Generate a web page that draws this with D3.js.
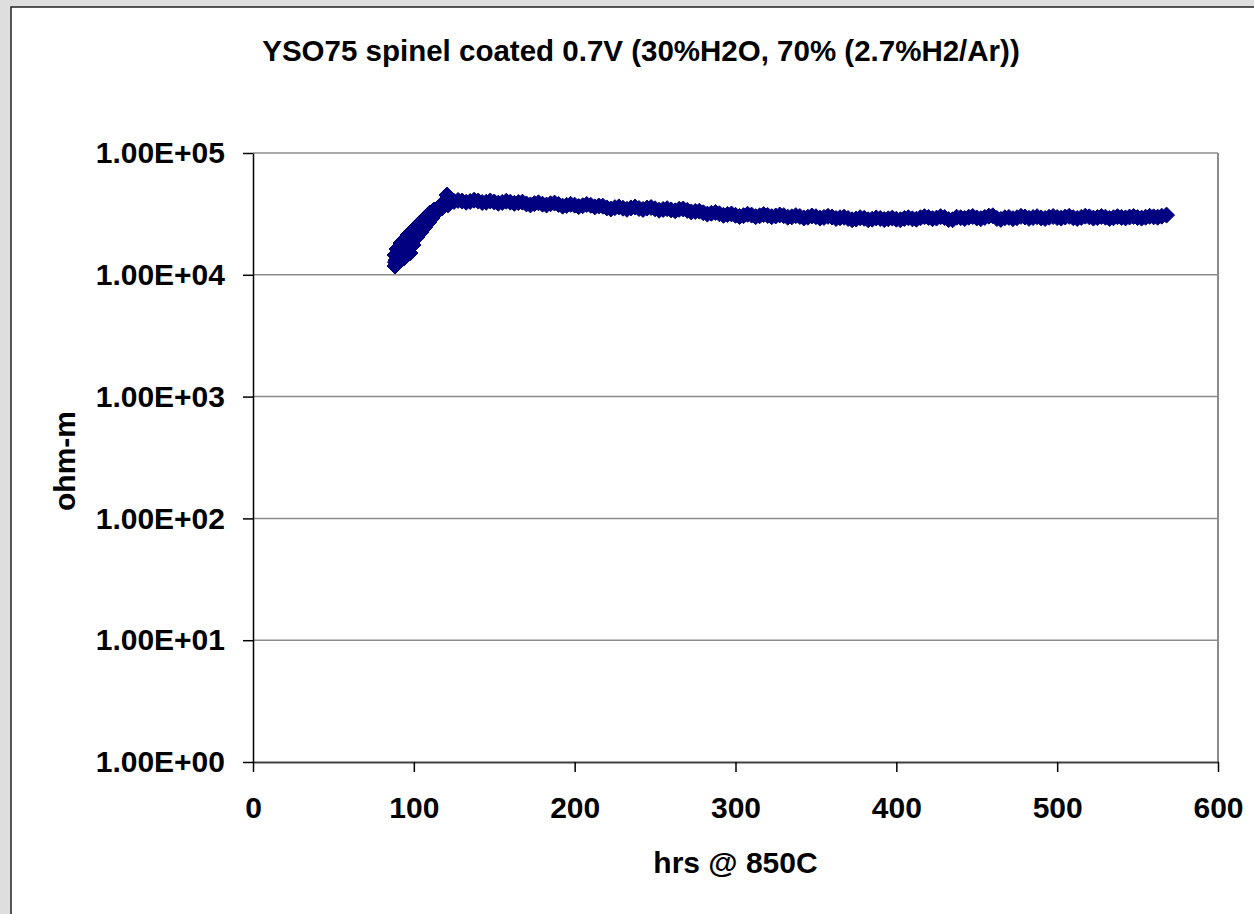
<!DOCTYPE html>
<html>
<head>
<meta charset="utf-8">
<script src="https://cdn.jsdelivr.net/npm/d3@7"></script>
<style>
body { margin: 0; background: #dedede; overflow: hidden; }
text { font-family: "Liberation Sans", Arial, sans-serif; font-weight: bold; fill: #000; }
</style>
</head>
<body>
<script>
var w = 1254;
var h = 914;

// the chart texts
var title = "YSO75 spinel coated 0.7V (30%H2O, 70% (2.7%H2/Ar))";
var xTitle = "hrs @ 850C";
var yTitle = "ohm-m";

// axis ticks
var xTicks = [0, 100, 200, 300, 400, 500, 600];
var yTicks = [1, 10, 100, 1000, 10000, 100000];
var yTickLabels = ["1.00E+00", "1.00E+01", "1.00E+02", "1.00E+03", "1.00E+04", "1.00E+05"];

// start-up ramp (scattered readings)
var rampHours = [88.3, 88.3, 88.6, 89.0, 89.5, 90.8, 91.5, 92.0, 93.9, 94.5, 95.0, 96.4, 97.6, 98.5,
                 99.5, 100.1, 101.0, 102.0, 103.8, 104.5, 105.5, 106.9, 106.9, 108.0, 109.4, 110.0,
                 111.3, 112.5, 113.0, 114.4, 115.0, 117.5, 118.1, 120.6, 121.2];
var rampOhms = [14540, 11810, 12700, 13200, 16280, 12740, 15500, 18240, 13740, 19680, 16500, 21230, 15100, 19000,
                17570, 23770, 21800, 20430, 26630, 22460, 27500, 29270, 24690, 28000, 27140, 32170,
                29270, 34040, 31500, 32780, 35350, 35350, 38860, 45200, 37420];

// long plateau after the ramp
var plateauHours = [125, 130, 135, 140, 145, 150, 155, 160, 165, 170, 175, 180, 185, 190, 195,
                    200, 205, 210, 215, 220, 225, 230, 235, 240, 245, 250, 255, 260, 265, 270,
                    275, 280, 285, 290, 295, 300, 305, 310, 315, 320, 325, 330, 335, 340, 345,
                    350, 355, 360, 365, 370, 375, 380, 385, 390, 395, 400, 405, 410, 415, 420,
                    425, 430, 435, 440, 445, 450, 455, 460, 465, 470, 475, 480, 485, 490, 495,
                    500, 505, 510, 515, 520, 525, 530, 535, 540, 545, 550, 555, 560, 565, 568];
var plateauOhms = [40000, 40300, 40000, 40300, 39400, 39600, 39300, 39500, 39200, 38200, 38400, 38000, 38300, 37800, 37100,
                   37300, 36900, 37200, 36700, 35400, 35600, 35200, 35400, 35000, 35300, 34800, 34400, 34100, 34500, 33800,
                   33100, 32300, 32000, 31700, 31300, 30800, 30600, 30900, 30500, 30700, 30400, 30600, 29900, 30100, 29700,
                   30000, 29600, 29800, 29400, 29000, 28700, 29100, 28600, 29000, 28800, 28600, 29000, 28800, 29400, 29600,
                   29200, 29500, 28300, 29400, 29700, 29300, 29600, 30500, 28500, 29600, 29400, 29800, 29500, 29300, 29700,
                   29500, 29800, 29400, 29600, 29900, 29500, 29700, 29400, 29600, 29800, 29500, 29700, 29900, 30300, 30900];

// in-between readings on the plateau (the scatter that thickens the band)
var plateauHours2 = [127.5, 132.5, 137.5, 142.5, 147.5, 152.5, 157.5, 162.5, 167.5, 172.5, 177.5, 182.5, 187.5, 192.5, 197.5,
                     202.5, 207.5, 212.5, 217.5, 222.5, 227.5, 232.5, 237.5, 242.5, 247.5, 252.5, 257.5, 262.5, 267.5, 272.5,
                     277.5, 282.5, 287.5, 292.5, 297.5, 302.5, 307.5, 312.5, 317.5, 322.5, 327.5, 332.5, 337.5, 342.5, 347.5,
                     352.5, 357.5, 362.5, 367.5, 372.5, 377.5, 382.5, 387.5, 392.5, 397.5, 402.5, 407.5, 412.5, 417.5, 422.5,
                     427.5, 432.5, 437.5, 442.5, 447.5, 452.5, 457.5, 462.5, 467.5, 472.5, 477.5, 482.5, 487.5, 492.5, 497.5,
                     502.5, 507.5, 512.5, 517.5, 522.5, 527.5, 532.5, 537.5, 542.5, 547.5, 552.5, 557.5, 562.5];
var plateauOhms2 = [40800, 39400, 41000, 39200, 40400, 38700, 40200, 38600, 39500, 37500, 39000, 37400, 38800, 36600, 37900,
                    36300, 37800, 36100, 36600, 34700, 36100, 34500, 36000, 34400, 35700, 33900, 34900, 33500, 34700, 32800,
                    33300, 31500, 32500, 30800, 31600, 30100, 31400, 30000, 31200, 30000, 31000, 29700, 30600, 29300, 30400,
                    29200, 30200, 29000, 29700, 28300, 29400, 28300, 29300, 28400, 29200, 28300, 29400, 28600, 30000, 28900,
                    30000, 28400, 29700, 29000, 30100, 28900, 30300, 29000, 29400, 28900, 30200, 29100, 30000, 29000, 30100,
                    29200, 30200, 29000, 30300, 29200, 30100, 29000, 30000, 29300, 30100, 29200, 30200, 29700];

var points = [];
rampHours.forEach(function (d, i) { points.push([d, rampOhms[i]]); });
plateauHours.forEach(function (d, i) { points.push([d, plateauOhms[i]]); });
plateauHours2.forEach(function (d, i) { points.push([d, plateauOhms2[i]]); });

// start the svg block
var svg = d3.select("body")
            .append("svg")
            .attr("width", w)
            .attr("height", h);

// white chart area with a dark frame
svg.append("rect")
   .attr("x", 11)
   .attr("y", 7)
   .attr("width", w + 20)
   .attr("height", h + 20)
   .style("fill", "#fff")
   .style("stroke", "#222")
   .style("stroke-width", 1.5);

// scales
var xScale = d3.scaleLinear()
               .domain([0, 600])
               .range([253, 1218]);

var yScale = d3.scaleLog()
               .domain([1, 100000])
               .range([762, 153]);

// horizontal gridlines
svg.selectAll(".grid")
   .data(yTicks.slice(1))
   .enter()
   .append("line")
   .attr("class", "grid")
   .attr("x1", xScale(0))
   .attr("x2", xScale(600))
   .attr("y1", function (d) { return yScale(d); })
   .attr("y2", function (d) { return yScale(d); })
   .style("stroke", "#8c8c8c")
   .style("stroke-width", 1.5);

// right border of the plot
svg.append("line")
   .attr("x1", xScale(600))
   .attr("x2", xScale(600))
   .attr("y1", yScale(100000))
   .attr("y2", yScale(1))
   .style("stroke", "#8c8c8c")
   .style("stroke-width", 2);

// x axis
var xAxis = d3.axisBottom(xScale)
              .tickValues(xTicks)
              .tickSize(10)
              .tickPadding(25)
              .tickSizeOuter(0);

var gx = svg.append("g")
            .attr("transform", "translate(0," + yScale(1) + ")")
            .call(xAxis);
gx.select(".domain").style("stroke", "#404040").style("stroke-width", 2);
gx.selectAll(".tick line").style("stroke", "#000").style("stroke-width", 1.5);
gx.selectAll("text").style("font-size", "30px").style("font-family", null);

// y axis (log)
var yAxis = d3.axisLeft(yScale)
              .tickValues(yTicks)
              .tickFormat(function (d, i) { return yTickLabels[i]; })
              .tickSize(10)
              .tickPadding(18)
              .tickSizeOuter(0);

var gy = svg.append("g")
            .attr("transform", "translate(" + xScale(0) + ",0)")
            .call(yAxis);
gy.select(".domain").style("stroke", "#000").style("stroke-width", 1.5);
gy.selectAll(".tick line").style("stroke", "#000").style("stroke-width", 1.5);
gy.selectAll("text").style("font-size", "30px").style("font-family", null);

// data markers: navy diamonds
svg.selectAll(".pt")
   .data(points)
   .enter()
   .append("path")
   .attr("class", "pt")
   .attr("d", "M0,-8L8,0L0,8L-8,0Z")
   .attr("transform", function (d) {
       return "translate(" + xScale(d[0]) + "," + yScale(d[1]) + ")";
   })
   .style("fill", "#000080")
   .style("stroke", "#000080")
   .style("stroke-width", 1);

// titles
svg.append("text")
   .attr("x", 641)
   .attr("y", 61)
   .attr("text-anchor", "middle")
   .style("font-size", "29.5px")
   .text(title);

svg.append("text")
   .attr("x", (xScale(0) + xScale(600)) / 2)
   .attr("y", 873)
   .attr("text-anchor", "middle")
   .style("font-size", "30px")
   .text(xTitle);

svg.append("text")
   .attr("transform", "translate(75,461) rotate(-90)")
   .attr("text-anchor", "middle")
   .style("font-size", "30px")
   .text(yTitle);
</script>
</body>
</html>
